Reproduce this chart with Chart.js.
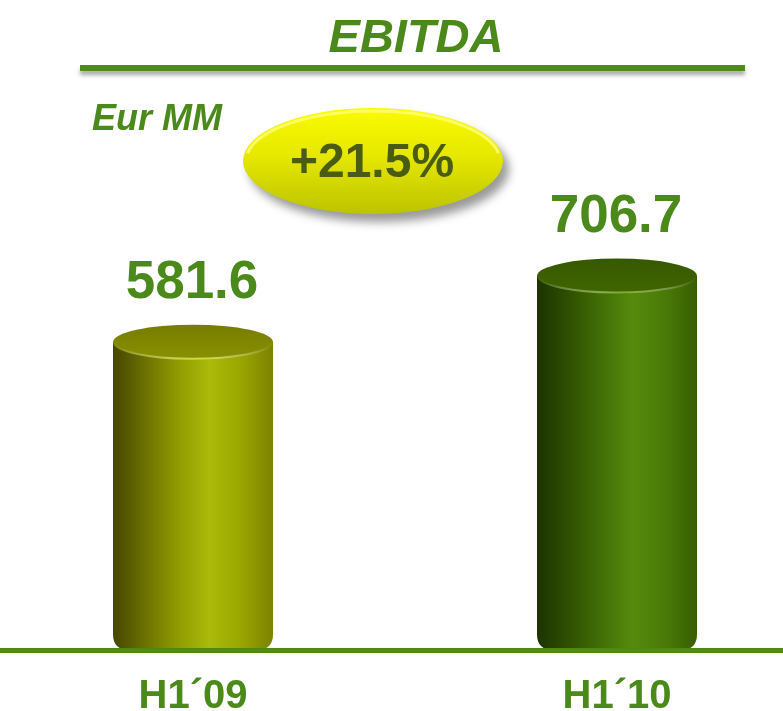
<!DOCTYPE html>
<html>
<head>
<meta charset="utf-8">
<script src="https://cdn.jsdelivr.net/npm/chart.js@4/dist/chart.umd.min.js"></script>
<style>
  body { margin: 0; background: #fff; }
  #wrap { width: 783px; height: 711px; position: relative; }
</style>
</head>
<body>
<div id="wrap"><canvas id="ebitdaChart"></canvas></div>
<script>
// Chart data
const periods = ['H1\u00B409', 'H1\u00B410'];
const ebitda = [581.6, 706.7];
const valueLabels = ['581.6', '706.7'];
const growthLabel = '+21.5%';

const GREEN = '#4b8a1a';

// colour stops for each cylinder body (left -> right) and its top
const bodyStops = [
    ['#454600', '#6c7100', '#909a00', '#aabb0a', '#9aa600', '#7c8200'],
    ['#1d3300', '#2f5000', '#436f06', '#558b0c', '#4a7a08', '#385e00']
];
const topColors = [['#767c00', '#8a9200', '#d4dc40'], ['#365800', '#406600', '#79b02a']];

function drawCylinder(ctx, cx, yTop, yBase, w, i) {
    const rx = w / 2, ry = 17.5, r = 16;
    const left = cx - rx, right = cx + rx;
    const g = ctx.createLinearGradient(left, 0, right, 0);
    bodyStops[i].forEach((c, k) => g.addColorStop(k / (bodyStops[i].length - 1), c));
    ctx.save();
    ctx.beginPath();
    ctx.moveTo(left, yTop);
    ctx.lineTo(left, yBase - r);
    ctx.quadraticCurveTo(left, yBase, left + r, yBase);
    ctx.lineTo(right - r, yBase);
    ctx.quadraticCurveTo(right, yBase, right, yBase - r);
    ctx.lineTo(right, yTop);
    ctx.closePath();
    ctx.fillStyle = g;
    ctx.fill();

    // top face
    const tg = ctx.createLinearGradient(0, yTop - ry, 0, yTop + ry);
    tg.addColorStop(0, topColors[i][0]);
    tg.addColorStop(1, topColors[i][1]);
    ctx.beginPath();
    ctx.ellipse(cx, yTop, rx, ry, 0, 0, Math.PI * 2);
    ctx.fillStyle = tg;
    ctx.fill();

    // front rim highlight
    const hg = ctx.createLinearGradient(left, 0, right, 0);
    hg.addColorStop(0, 'rgba(255,255,255,0)');
    hg.addColorStop(0.55, topColors[i][2]);
    hg.addColorStop(1, 'rgba(255,255,255,0)');
    ctx.beginPath();
    ctx.ellipse(cx, yTop, rx - 1, ry - 1, 0, 0.05, Math.PI - 0.05);
    ctx.strokeStyle = hg;
    ctx.lineWidth = 2;
    ctx.stroke();
    ctx.restore();
}

const cylinderPlugin = {
    id: 'cylinders',
    afterDatasetsDraw(chart) {
        const ctx = chart.ctx;
        const meta = chart.getDatasetMeta(0);
        meta.data.forEach((bar, i) => {
            drawCylinder(ctx, bar.x, bar.y, bar.base, bar.width, i);
            ctx.save();
            ctx.fillStyle = GREEN;
            ctx.font = 'bold 53px "Liberation Sans", Arial, sans-serif';
            ctx.textAlign = 'center';
            ctx.textBaseline = 'alphabetic';
            ctx.fillText(valueLabels[i], bar.x - 1, bar.y - 17.5 - 27);
            ctx.restore();
        });
    },
    afterDraw(chart) {
        const ctx = chart.ctx;
        const area = chart.chartArea;
        ctx.save();
        // baseline
        ctx.fillStyle = '#4f8a10';
        ctx.fillRect(0, area.bottom - 2, chart.width, 5);

        // title + underline
        ctx.fillStyle = GREEN;
        ctx.font = 'italic bold 47px "Liberation Sans", Arial, sans-serif';
        ctx.textAlign = 'center';
        ctx.fillText('EBITDA', 416, 52);
        ctx.shadowColor = 'rgba(0,0,0,0.35)';
        ctx.shadowOffsetY = 4;
        ctx.shadowBlur = 4;
        ctx.fillStyle = '#4f8a1c';
        ctx.fillRect(80, 65, 665, 6);
        ctx.shadowColor = 'transparent';

        // unit
        ctx.fillStyle = GREEN;
        ctx.font = 'italic bold 36px "Liberation Sans", Arial, sans-serif';
        ctx.textAlign = 'left';
        ctx.fillText('Eur MM', 92, 130);

        // growth badge
        ctx.save();
        ctx.shadowColor = 'rgba(0,0,0,0.4)';
        ctx.shadowOffsetX = 6;
        ctx.shadowOffsetY = 8;
        ctx.shadowBlur = 10;
        const bg = ctx.createLinearGradient(0, 108, 0, 214);
        bg.addColorStop(0, '#fbfb00');
        bg.addColorStop(0.45, '#e6e800');
        bg.addColorStop(1, '#bcc400');
        ctx.beginPath();
        ctx.ellipse(373, 161, 130, 53, 0, 0, Math.PI * 2);
        ctx.fillStyle = bg;
        ctx.fill();
        ctx.restore();
        ctx.beginPath();
        ctx.ellipse(373, 161, 127, 50, 0, Math.PI * 1.05, Math.PI * 1.95);
        ctx.strokeStyle = 'rgba(255,255,120,0.8)';
        ctx.lineWidth = 3;
        ctx.stroke();

        ctx.fillStyle = '#4a5c10';
        ctx.font = 'bold 48px "Liberation Sans", Arial, sans-serif';
        ctx.textAlign = 'center';
        ctx.fillText(growthLabel, 372, 177);
        ctx.restore();
    }
};

new Chart(document.getElementById('ebitdaChart').getContext('2d'), {
    type: 'bar',
    data: {
        labels: periods,
        datasets: [{
            label: 'EBITDA',
            data: ebitda,
            backgroundColor: 'rgba(0,0,0,0)',
            barThickness: 160
        }]
    },
    options: {
        responsive: true,
        maintainAspectRatio: false,
        animation: false,
        layout: { padding: { left: 193, right: 166, top: 15, bottom: -33 } },
        plugins: { legend: { display: false }, tooltip: { enabled: false } },
        scales: {
            x: {
                offset: false,
                grid: { display: false, drawTicks: false },
                border: { display: false },
                ticks: {
                    color: GREEN,
                    padding: 27,
                    font: { family: '"Liberation Sans", Arial, sans-serif', size: 40, weight: 'bold', lineHeight: 1 }
                }
            },
            y: { display: false, min: 0, max: 1200 }
        }
    },
    plugins: [cylinderPlugin]
});
</script>
</body>
</html>
